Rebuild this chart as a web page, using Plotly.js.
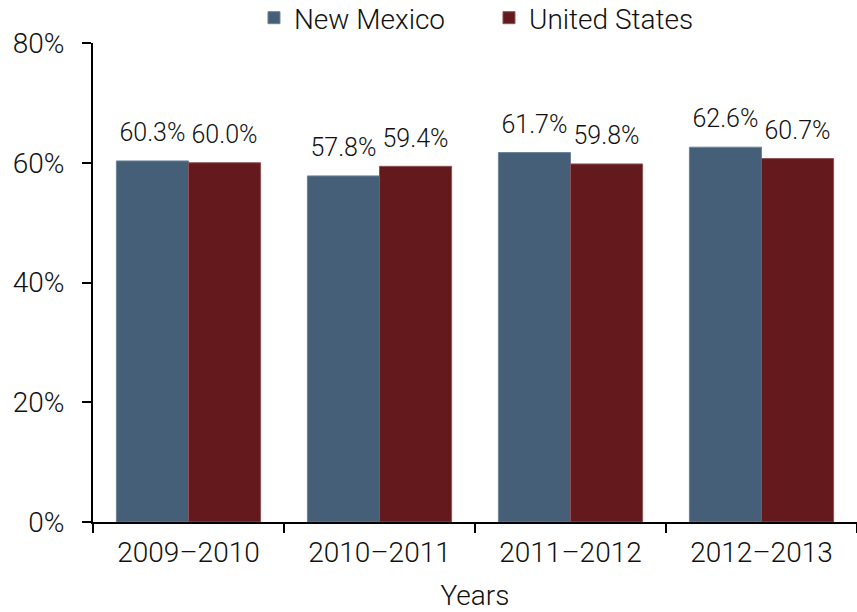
<!DOCTYPE html>
<html>
<head>
<meta charset="utf-8">
<script src="https://cdn.plot.ly/plotly-3.0.1.min.js"></script>
<style>html,body{margin:0;padding:0;background:#fff;}#chart{width:857px;height:612px;}</style>
</head>
<body>
<div id="chart"></div>
<script>
const years = ['2009–2010', '2010–2011', '2011–2012', '2012–2013'];
const newMexico = [60.3, 57.8, 61.7, 62.6];
const unitedStates = [60.0, 59.4, 59.8, 60.7];
const yTicks = [0, 20, 40, 60, 80];
const yTickLabels = ['0%', '20%', '40%', '60%', '80%'];

const FONT = 'Roboto, Liberation Sans, Arial, sans-serif';
const W = 300;
const TXT = '#111';
const nmColor = '#465F79';
const usColor = '#641A1D';

const fmt = v => v.toFixed(1) + '%';

const traces = [
  {type: 'bar', name: 'New Mexico', x: years, y: newMexico, offsetgroup: 'nm',
   marker: {color: nmColor, line: {color: '#6E8296', width: 1}}, hoverinfo: 'skip'},
  {type: 'bar', name: 'United States', x: years, y: unitedStates, offsetgroup: 'us',
   marker: {color: usColor, line: {color: '#8C5255', width: 1}}, hoverinfo: 'skip'},
  {type: 'scatter', mode: 'markers+text', x: years, y: newMexico, offsetgroup: 'nm',
   text: newMexico.map(fmt), textposition: 'top center', showlegend: false,
   marker: {size: 20, opacity: 0}, cliponaxis: false, hoverinfo: 'skip',
   textfont: {family: FONT, size: 25, color: TXT, weight: W}},
  {type: 'scatter', mode: 'markers+text', x: years, y: unitedStates, offsetgroup: 'us',
   text: unitedStates.map(fmt), textposition: 'top center', showlegend: false,
   marker: {size: 20, opacity: 0}, cliponaxis: false, hoverinfo: 'skip',
   textfont: {family: FONT, size: 25, color: TXT, weight: W}}
];

const layout = {
  width: 857, height: 612,
  margin: {l: 93, r: 0, t: 43, b: 90, pad: 0, autoexpand: false},
  paper_bgcolor: '#fff', plot_bgcolor: '#fff',
  font: {family: FONT, size: 28, color: TXT, weight: W},
  barmode: 'group', bargap: 0.245, bargroupgap: 0,
  scattermode: 'group', scattergap: 0.245,
  showlegend: true,
  legend: {orientation: 'h', x: 0.2107, xanchor: 'left', y: 1.0, yanchor: 'bottom',
           entrywidth: 190, entrywidthmode: 'pixels',
           font: {family: FONT, size: 28, color: TXT, weight: W}, itemwidth: 30, traceorder: 'normal'},
  xaxis: {
    type: 'category', range: [-0.5, 3.5],
    showline: true, linecolor: '#000', linewidth: 2,
    ticks: 'outside', tickson: 'boundaries', ticklen: 9, tickwidth: 2, tickcolor: '#000',
    tickfont: {family: FONT, size: 28, color: TXT, weight: W}, ticklabelstandoff: 4,
    showgrid: false, zeroline: false,
    title: {text: 'Years', font: {family: FONT, size: 28, color: TXT, weight: W}, standoff: 22}
  },
  yaxis: {
    range: [0, 80], tickvals: yTicks, ticktext: yTickLabels,
    showline: true, linecolor: '#000', linewidth: 2,
    ticks: 'outside', ticklen: 9, tickwidth: 2, tickcolor: '#000',
    tickfont: {family: FONT, size: 28, color: TXT, weight: W}, ticklabelstandoff: 12,
    showgrid: false, zeroline: false
  }
};

Plotly.newPlot('chart', traces, layout, {displayModeBar: false, staticPlot: true});
</script>
</body>
</html>
